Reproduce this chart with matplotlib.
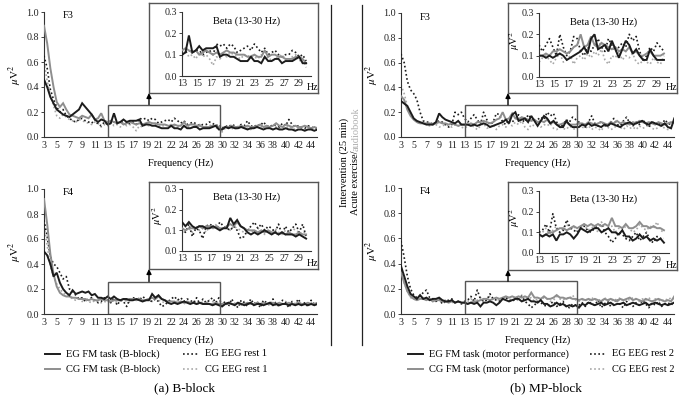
import numpy as np
import matplotlib
matplotlib.use("Agg")
import matplotlib.pyplot as plt
from matplotlib.patches import Rectangle, FancyArrowPatch
from matplotlib.lines import Line2D

plt.rcParams['font.family'] = ['Liberation Serif', 'DejaVu Serif']
plt.rcParams['mathtext.fontset'] = 'stix'

W, H = 684, 400

# ---------------- data ----------------
freq_labels = ['3', '5', '7', '9', '11', '13', '15', '17', '19', '21', '22', '24', '26',
               '28', '30', '32', '34', '36', '38', '40', '42', '44']
main_yticks = [0.0, 0.2, 0.4, 0.6, 0.8, 1.0]
beta_xticks = [13, 15, 17, 19, 21, 23, 25, 27, 29]
beta_yticks = [0.0, 0.1, 0.2, 0.3]
beta_range = (13, 30)

# values in 1/100 uV^2, 0.5 Hz bins from 3 Hz
# (a) B-block, F3
bf3_eg_task = [46, 40, 32, 27, 22, 20, 18, 17, 16, 18, 20, 22, 27, 24, 21, 18, 14, 12, 14, 13, 10,
               11, 19, 11, 12, 14, 12, 13, 13, 13, 14, 9, 10, 10, 9, 9, 8, 7, 7, 7, 9,
               7, 7, 6, 9, 7, 7, 8, 8, 6, 7, 7, 7, 8, 9, 6, 6,
               8, 7, 8, 7, 7, 8, 7, 6, 7, 7, 8, 7, 6, 7, 7, 6, 7, 6, 6, 7, 6, 6, 5, 6, 6, 5, 6, 6, 5, 6]
bf3_cg_task = [89, 75, 55, 40, 28, 24, 27, 22, 18, 17, 16, 15, 17, 16, 15, 18, 14, 15, 19, 13, 12,
               13, 12, 11, 12, 10, 11, 12, 11, 10, 11, 10, 11, 12, 11, 11, 10, 10, 10, 9, 9,
               10, 9, 9, 12, 9, 10, 10, 9, 9, 8, 8, 8, 9, 9, 8, 6,
               8, 8, 9, 8, 8, 9, 8, 9, 8, 8, 9, 10, 8, 9, 8, 9, 11, 9, 8, 10, 9, 8, 9, 8, 8, 9, 8, 7, 8, 7]
bf3_eg_rest = [65, 55, 38, 30, 24, 20, 22, 17, 15, 13, 12, 14, 15, 13, 12, 11, 14, 10, 9, 12, 10,
               11, 12, 11, 12, 12, 10, 11, 12, 10, 15, 14, 15, 13, 15, 14, 11, 12, 13, 14, 12,
               15, 13, 11, 13, 10, 11, 12, 10, 9, 10, 10, 12, 11, 9, 10, 7,
               9, 8, 10, 9, 8, 10, 9, 13, 9, 8, 10, 9, 12, 9, 8, 10, 9, 8, 11, 9, 14, 10, 8, 9, 8, 7, 9, 8, 7, 7]
bf3_cg_rest = [60, 45, 33, 25, 17, 15, 18, 16, 14, 13, 12, 14, 13, 12, 11, 10, 12, 11, 8, 10, 9,
               12, 9, 10, 8, 11, 9, 10, 8, 5, 9, 8, 10, 9, 11, 10, 9, 8, 10, 9, 10,
               9, 8, 10, 8, 9, 7, 8, 9, 10, 8, 7, 9, 10, 7, 8, 4,
               7, 8, 7, 6, 8, 7, 8, 7, 6, 8, 7, 9, 7, 8, 7, 6, 8, 7, 8, 7, 9, 7, 6, 8, 7, 6, 8, 7, 8, 6]
# (a) B-block, F4
bf4_eg_task = [50, 47, 40, 30, 33, 25, 20, 17, 15, 19, 16, 17, 18, 17, 18, 15, 16, 13, 13, 12, 14,
               12, 14, 12, 11, 12, 12, 11, 11, 12, 11, 10, 11, 11, 16, 13, 15, 12, 11, 9, 8,
               9, 8, 9, 10, 9, 8, 9, 8, 9, 8, 8, 8, 7, 8, 7, 6,
               8, 9, 8, 7, 9, 8, 7, 8, 9, 7, 8, 8, 7, 8, 9, 7, 8, 7, 8, 8, 7, 8, 7, 8, 7, 8, 7, 8, 7, 8]
bf4_cg_task = [92, 72, 48, 32, 22, 17, 15, 14, 14, 13, 13, 12, 12, 12, 11, 12, 11, 11, 12, 11, 11,
               10, 11, 11, 11, 12, 11, 12, 12, 11, 12, 11, 11, 12, 13, 12, 14, 12, 11, 10, 10,
               10, 9, 10, 9, 10, 9, 9, 8, 9, 8, 9, 8, 8, 9, 8, 8,
               8, 9, 8, 8, 9, 8, 8, 9, 8, 8, 9, 8, 9, 8, 8, 9, 8, 9, 8, 8, 9, 8, 8, 9, 8, 8, 9, 8, 8, 9]
bf4_eg_rest = [75, 62, 46, 40, 38, 33, 28, 30, 20, 18, 15, 12, 13, 10, 12, 13, 11, 9, 10, 13, 11,
               9, 13, 7, 11, 10, 6, 12, 13, 12, 11, 14, 12, 11, 10, 12, 10, 6, 7, 10, 12,
               14, 11, 13, 10, 12, 11, 9, 13, 8, 12, 9, 11, 13, 9, 13, 7,
               10, 6, 12, 8, 5, 11, 9, 6, 12, 8, 10, 5, 11, 9, 7, 12, 8, 6, 11, 9, 5, 10, 8, 12, 7, 9, 6, 11, 8, 9]
bf4_cg_rest = [70, 55, 38, 30, 24, 20, 17, 15, 14, 12, 11, 12, 10, 11, 10, 9, 11, 10, 9, 10, 9,
               10, 11, 9, 12, 10, 11, 9, 12, 11, 13, 10, 11, 12, 10, 12, 11, 10, 9, 11, 10,
               9, 11, 10, 8, 10, 9, 11, 9, 8, 10, 9, 11, 10, 9, 8, 10,
               8, 9, 10, 8, 9, 7, 10, 8, 9, 8, 10, 7, 9, 8, 9, 8, 7, 9, 8, 10, 8, 7, 9, 8, 9, 7, 8, 9, 8, 7]
# (b) MP-block, F3
mf3_eg_task = [29, 27, 25, 20, 15, 13, 12, 11, 10, 10, 10, 12, 19, 16, 14, 13, 12, 11, 13, 10, 10,
               10, 9, 10, 9, 10, 11, 10, 8, 9, 10, 11, 12, 14, 11, 18, 20, 13, 14, 15, 12,
               17, 13, 9, 13, 17, 15, 11, 13, 10, 8, 8, 13, 10, 8, 8, 8,
               10, 9, 11, 9, 10, 9, 8, 10, 9, 11, 10, 9, 8, 10, 11, 12, 10, 11, 12, 13, 11, 10, 12, 11, 10, 9, 11, 8, 7, 15]
mf3_cg_task = [33, 30, 22, 17, 14, 12, 11, 11, 11, 11, 10, 11, 12, 11, 11, 10, 11, 10, 9, 10, 10,
               10, 11, 10, 12, 12, 13, 12, 11, 12, 14, 15, 20, 14, 15, 19, 15, 14, 16, 15, 14,
               13, 14, 12, 13, 12, 14, 11, 12, 10, 10, 11, 12, 10, 10, 10, 11,
               11, 10, 12, 11, 10, 11, 12, 11, 10, 12, 11, 13, 11, 12, 11, 10, 12, 11, 13, 12, 11, 12, 11, 10, 12, 11, 10, 11, 12, 11]
mf3_eg_rest = [67, 60, 45, 38, 35, 30, 20, 13, 12, 12, 10, 12, 13, 12, 10, 8, 10, 20, 18, 20, 15,
               12, 15, 18, 14, 10, 20, 14, 10, 12, 19, 18, 12, 10, 14, 12, 15, 18, 14, 12, 18,
               15, 12, 14, 16, 14, 20, 17, 19, 12, 8, 10, 14, 12, 16, 14, 12,
               10, 8, 12, 17, 11, 9, 13, 10, 8, 12, 15, 10, 9, 13, 16, 11, 9, 12, 10, 14, 11, 8, 13, 10, 12, 9, 14, 11, 10, 13]
mf3_cg_rest = [42, 35, 25, 18, 15, 12, 11, 12, 10, 9, 11, 10, 8, 9, 10, 9, 8, 10, 9, 8, 7,
               9, 10, 8, 6, 9, 11, 7, 8, 10, 6, 9, 10, 8, 11, 9, 12, 10, 13, 8, 6,
               10, 9, 12, 8, 10, 9, 11, 7, 6, 8, 7, 6, 9, 7, 6, 10,
               8, 7, 9, 6, 8, 7, 5, 9, 8, 6, 7, 10, 8, 6, 9, 7, 8, 6, 9, 7, 8, 10, 7, 6, 8, 9, 7, 6, 8, 9]
# (b) MP-block, F4
mf4_eg_task = [38, 30, 22, 16, 14, 12, 15, 12, 13, 11, 12, 12, 13, 11, 10, 10, 11, 9, 10, 9, 9,
               8, 9, 8, 9, 6, 9, 9, 10, 9, 7, 9, 12, 11, 10, 11, 12, 12, 10, 11, 12,
               10, 10, 9, 11, 8, 8, 6, 7, 9, 7, 8, 6, 7, 6, 7, 5,
               8, 7, 9, 8, 7, 8, 9, 7, 8, 9, 7, 8, 8, 9, 7, 8, 9, 8, 7, 8, 9, 7, 8, 9, 8, 7, 8, 7, 8, 9]
mf4_cg_task = [33, 25, 18, 14, 12, 11, 12, 12, 11, 12, 10, 11, 11, 10, 10, 9, 10, 9, 10, 9, 9,
               8, 9, 10, 10, 11, 12, 12, 11, 12, 13, 12, 13, 14, 13, 14, 13, 14, 13, 14, 13,
               17, 13, 13, 12, 14, 12, 12, 13, 15, 13, 13, 12, 13, 12, 12, 11,
               12, 11, 12, 11, 12, 11, 10, 12, 11, 12, 11, 10, 12, 11, 12, 13, 11, 12, 11, 10, 12, 11, 10, 11, 12, 11, 10, 11, 10, 14]
mf4_eg_rest = [58, 45, 30, 20, 15, 13, 14, 17, 19, 13, 12, 10, 12, 8, 10, 11, 12, 9, 10, 8, 10,
               11, 14, 10, 19, 12, 10, 11, 16, 12, 11, 10, 12, 13, 11, 10, 12, 13, 14, 10, 8,
               5, 7, 10, 9, 7, 6, 8, 10, 6, 8, 10, 6, 5, 8, 7, 7,
               9, 6, 10, 8, 7, 11, 5, 8, 10, 6, 9, 12, 7, 5, 10, 8, 6, 9, 7, 11, 8, 5, 9, 7, 10, 6, 8, 9, 7, 10]
mf4_cg_rest = [35, 25, 18, 13, 12, 11, 12, 13, 11, 12, 10, 11, 10, 10, 11, 10, 9, 10, 9, 10, 9,
               10, 12, 9, 11, 13, 10, 12, 14, 11, 13, 10, 12, 14, 11, 12, 13, 10, 15, 11, 12,
               13, 10, 12, 11, 13, 12, 10, 11, 14, 12, 11, 13, 12, 15, 11, 10,
               11, 12, 10, 13, 11, 12, 10, 13, 11, 10, 12, 11, 13, 10, 12, 11, 13, 12, 10, 12, 11, 13, 10, 12, 11, 10, 12, 11, 13, 12]

legend_left = ['EG FM task (B-block)', 'CG FM task (B-block)', 'EG EEG rest 1', 'CG EEG rest 1']
legend_right = ['EG FM task (motor performance)', 'CG FM task (motor performance)',
                'EG EEG rest 2', 'CG EEG rest 2']

# ---------------- styles ----------------
BLACK = '#1c1c1c'
GRAY = '#8e8e8e'
LGRAY = '#a8a8a8'
styles = [  # eg task, cg task, eg rest, cg rest
    dict(color=BLACK, ls='-', lw=1.4, zorder=5),
    dict(color=GRAY, ls='-', lw=1.4, zorder=4),
    dict(color=BLACK, ls=(0, (1, 1.5)), lw=1.2, zorder=3),
    dict(color=LGRAY, ls=(0, (1, 1.5)), lw=1.2, zorder=2),
]

fig = plt.figure(figsize=(W / 100, H / 100), dpi=100)


def fr(x0, y0, x1, y1):
    return [x0 / W, 1 - y1 / H, (x1 - x0) / W, (y1 - y0) / H]


def fx(x):
    return x / W


def fy(y):
    return 1 - y / H


def style_axes(ax):
    for s in ['top', 'right']:
        ax.spines[s].set_visible(False)
    for s in ['left', 'bottom']:
        ax.spines[s].set_color('#333333')
        ax.spines[s].set_linewidth(0.8)
    ax.tick_params(labelsize=7.2, length=2, width=0.6, pad=1.5, colors='#222222')


panels = [
    dict(series=(bf3_eg_task, bf3_cg_task, bf3_eg_rest, bf3_cg_rest), x0=44, unit=12.72,
         ytop=12, ybot=137, name='F3', frame=(149, 3, 318, 93), ix=182, iunit=7.3,
         iytop=12, iybot=76, ylab=False),
    dict(series=(bf4_eg_task, bf4_cg_task, bf4_eg_rest, bf4_cg_rest), x0=44, unit=12.72,
         ytop=189, ybot=314, name='F4', frame=(149, 182, 318, 269), ix=182, iunit=7.3,
         iytop=189, iybot=251, ylab=True),
    dict(series=(mf3_eg_task, mf3_cg_task, mf3_eg_rest, mf3_cg_rest), x0=401, unit=12.71,
         ytop=13, ybot=137, name='F3', frame=(508, 3, 677, 93), ix=539, iunit=7.35,
         iytop=13, iybot=77, ylab=True),
    dict(series=(mf4_eg_task, mf4_cg_task, mf4_eg_rest, mf4_cg_rest), x0=401, unit=12.71,
         ytop=188, ybot=314, name='F4', frame=(508, 182, 677, 270), ix=539, iunit=7.35,
         iytop=191, iybot=253, ylab=True),
]

ylab = r'$\mu$V$^2$'
for p in panels:
    x0, unit, ytop, ybot = p['x0'], p['unit'], p['ytop'], p['ybot']
    xmax = 21.5
    ax = fig.add_axes(fr(x0, ytop, x0 + xmax * unit, ybot))
    style_axes(ax)
    for vals, st in zip(p['series'], styles):
        v = np.asarray(vals) / 100.0
        pos = np.arange(len(v)) / 4.0
        ax.plot(pos, v, color=st['color'], ls=st['ls'], lw=st['lw'], zorder=st['zorder'],
                solid_joinstyle='miter')
    ax.set_xlim(0, xmax)
    ax.set_ylim(0, 1.0)
    ax.set_xticks(np.arange(len(freq_labels)))
    ax.set_xticklabels(freq_labels)
    ax.set_yticks(main_yticks)
    ax.yaxis.set_major_formatter('{x:.1f}')
    ax.tick_params(axis='x', length=0, pad=3)
    # zoom box
    ax.add_patch(Rectangle((5, 0), 8.85, 0.26, fill=False, ec='#555555', lw=1.0, zorder=6))
    fig.text(fx(x0 - 29), fy((ytop + ybot) / 2), ylab, rotation=90, ha='center', va='center',
             fontsize=8)
    fig.text(fx(x0 + 19), fy(ytop + 4), p['name'], ha='left', va='center', fontsize=7.5)
    fig.text(fx(x0 + 137), fy(ybot + 26), 'Frequency (Hz)', ha='center', va='center', fontsize=7.5)

    # inset frame
    fx0, fy0, fx1, fy1 = p['frame']
    fax = fig.add_axes(fr(fx0, fy0, fx1, fy1))
    fax.set_xticks([])
    fax.set_yticks([])
    for s in fax.spines.values():
        s.set_color('#555555')
        s.set_linewidth(1.0)
    fax.set_zorder(2)
    # arrow from zoom box to inset
    box_top_px = ybot - 0.26 * (ybot - ytop)
    fig.add_artist(FancyArrowPatch(
        (fx(fx0), fy(box_top_px)), (fx(fx0), fy(fy1)), transform=fig.transFigure,
        arrowstyle='-|>', mutation_scale=7, lw=1.0, color='black', shrinkA=0, shrinkB=0))

    # inset axes
    ix, iunit = p['ix'], p['iunit']
    ixmax = 30.7
    iax = fig.add_axes(fr(ix, p['iytop'], ix + (ixmax - 13) * iunit, p['iybot']))
    iax.set_zorder(3)
    iax.patch.set_alpha(0)
    style_axes(iax)
    for vals, st in zip(p['series'], styles):
        v = np.asarray(vals[20:57]) / 100.0
        bx = np.linspace(beta_range[0], beta_range[1], len(v))
        iax.plot(bx, v, color=st['color'], ls=st['ls'], lw=st['lw'], zorder=st['zorder'],
                 solid_joinstyle='miter')
    iax.set_xlim(13, ixmax)
    iax.set_ylim(0, 0.3)
    iax.set_xticks(beta_xticks)
    iax.set_yticks(beta_yticks)
    iax.yaxis.set_major_formatter('{x:.1f}')
    iax.tick_params(axis='x', length=0, pad=2)
    iax.text(0.5, 0.86, 'Beta (13-30 Hz)', transform=iax.transAxes, ha='center', va='center',
             fontsize=7.5)
    fig.text(fx(fx1 - 5), fy(fy1 - 5), 'Hz', ha='center', va='center', fontsize=7.2, zorder=10)
    if p['ylab']:
        fig.text(fx(ix - 24), fy((p['iytop'] + p['iybot']) / 2 - 4), ylab, rotation=90,
                 ha='center', va='center', fontsize=7.5, zorder=10)

# divider lines and intervention text
for xd in (331, 362):
    fig.add_artist(Line2D([fx(xd), fx(xd)], [fy(5), fy(345)], color='#222222', lw=0.9))
fig.text(fx(344), fy(162), 'Intervention (25 min)', rotation=90, ha='center', va='center',
         fontsize=7.5)
fig.text(fx(356), fy(151), 'Acute exercise/', rotation=90, ha='center', va='top', fontsize=7.5)
fig.text(fx(356), fy(151), 'audiobook', rotation=90, ha='center', va='bottom', fontsize=7.5,
         color='#b0b0b0')

# legends
leg_specs = [
    (legend_left, (45, 60, 66), (183, 199, 205), 184, '(a) B-block'),
    (legend_right, (408, 423, 429), (590, 606, 612), 546, '(b) MP-block'),
]
rows = [354, 369]
for labels, (sa, sb, st_), (da, db, dt), cx, cap in leg_specs:
    for r, (lab, sty) in enumerate(zip(labels[:2], styles[:2])):
        fig.add_artist(Line2D([fx(sa), fx(sb)], [fy(rows[r]), fy(rows[r])], color=sty['color'],
                              ls=sty['ls'], lw=sty['lw']))
        fig.text(fx(st_), fy(rows[r]), lab, ha='left', va='center', fontsize=7.5)
    for r, (lab, sty) in enumerate(zip(labels[2:], styles[2:])):
        fig.add_artist(Line2D([fx(da), fx(db)], [fy(rows[r]), fy(rows[r])], color=sty['color'],
                              ls=sty['ls'], lw=sty['lw']))
        fig.text(fx(dt), fy(rows[r]), lab, ha='left', va='center', fontsize=7.5)
    fig.text(fx(cx), fy(388), cap, ha='center', va='center', fontsize=9.5)

fig.savefig('out.png', dpi=100)
